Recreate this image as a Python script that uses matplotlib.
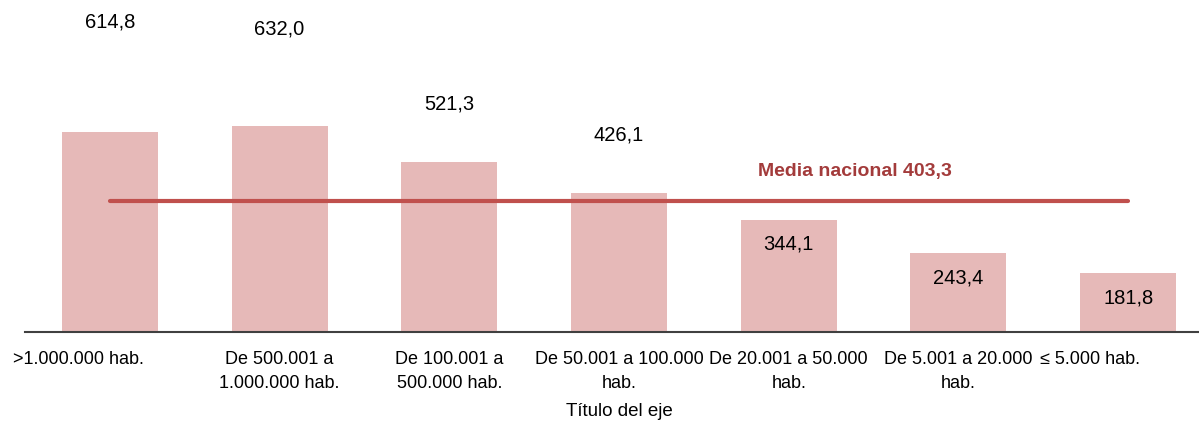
import matplotlib.pyplot as plt
from matplotlib.transforms import ScaledTranslation

# tasa por tamaño de municipio
categorias = ['>1.000.000 hab.', 'De 500.001 a\n1.000.000 hab.', 'De 100.001 a\n500.000 hab.',
              'De 50.001 a 100.000\nhab.', 'De 20.001 a 50.000\nhab.', 'De 5.001 a 20.000\nhab.',
              '≤ 5.000 hab.']
valores = [614.8, 632.0, 521.3, 426.1, 344.1, 243.4, 181.8]
# altura a la que va cada etiqueta
pos_etiquetas = [954, 930, 701, 606, 270, 166, 105]
media_nacional = 403.3

plt.rcParams['font.family'] = ['Liberation Sans', 'DejaVu Sans']

fig = plt.figure(figsize=(11.99, 4.25), dpi=100)
ax = fig.add_axes([25 / 1199, 93 / 425, 1188 / 1199, 325.3 / 425])

x = list(range(len(valores)))
ax.bar(x, valores, width=0.566, color='#E6B9B8')

for xi, v, yl in zip(x, valores, pos_etiquetas):
    ax.text(xi, yl, f'{v:.1f}'.replace('.', ','), ha='center', va='center', fontsize=14.5, color='black')

ax.plot([x[0], x[-1]], [media_nacional, media_nacional], color='#C0504D', lw=3, solid_capstyle='round')
ax.text(4.39, 492, 'Media nacional ' + f'{media_nacional:.1f}'.replace('.', ','),
        ha='center', va='center', fontsize=14, fontweight='bold', color='#A33B3B')

ax.set_xlim(-0.5, 6.5)
ax.set_ylim(0, 1000)
ax.set_xticks(x)
ax.set_xticklabels(categorias, fontsize=13, linespacing=1.5)
ax.tick_params(axis='x', length=0, pad=14)
ax.set_yticks([])
for s in ['top', 'right', 'left']:
    ax.spines[s].set_visible(False)
ax.spines['bottom'].set_color('#404040')
ax.spines['bottom'].set_linewidth(1.5)

lbls = ax.get_xticklabels()
lbls[0].set_transform(lbls[0].get_transform() + ScaledTranslation(-0.31, 0, fig.dpi_scale_trans))
lbls[-1].set_transform(lbls[-1].get_transform() + ScaledTranslation(-0.38, 0, fig.dpi_scale_trans))

ax.set_xlabel('Título del eje', fontsize=13.5, labelpad=8)

fig.savefig('out.png', dpi=100)
